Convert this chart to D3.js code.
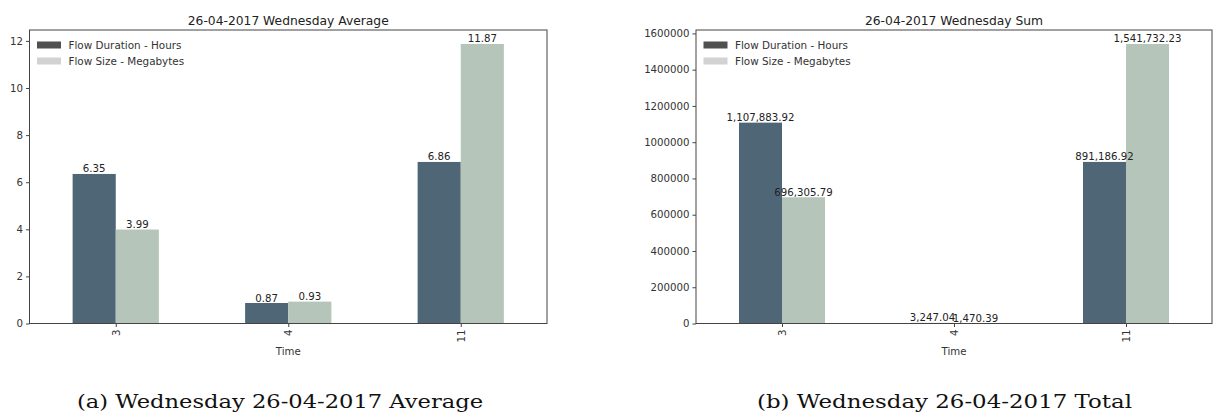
<!DOCTYPE html>
<html><head><meta charset="utf-8">
<script src="https://cdn.jsdelivr.net/npm/d3@7"></script>
<style>body{margin:0;background:#fff}svg{display:block}</style>
</head><body>
<svg id="c" width="1221" height="417"></svg>
<script>
const categories = ["3", "4", "11"];
const seriesNames = ["Flow Duration - Hours", "Flow Size - Megabytes"];
const avgDuration = [6.35, 0.87, 6.86];
const avgSize = [3.99, 0.93, 11.87];
const sumDuration = [1107883.92, 3247.04, 891186.92];
const sumSize = [696305.79, 1470.39, 1541732.23];
const avgTicks = [0, 2, 4, 6, 8, 10, 12];
const sumTicks = [0, 200000, 400000, 600000, 800000, 1000000, 1200000, 1400000, 1600000];
const titles = ["26-04-2017 Wednesday Average", "26-04-2017 Wednesday Sum"];
const captions = ["(a) Wednesday 26-04-2017 Average", "(b) Wednesday 26-04-2017 Total"];

const svg = d3.select("#c");
const barColors = ["#4e6676", "#b6c5b9"];
const legendColors = ["#505050", "#d2d2d2"];
const sans = "DejaVu Sans";

function panel(cfg) {
  const {x0, x1, y0, y1, d1, d2, ticks, fmtLabel, title, caption, capCx, capW} = cfg;
  const g = svg.append("g");
  const ymax = d3.max(d1.concat(d2)) * 1.05;
  const x = d3.scaleLinear().domain([-0.5, categories.length - 0.5]).range([x0, x1]);
  const y = d3.scaleLinear().domain([0, ymax]).range([y1, y0]);
  const bw = 0.25;
  [d1, d2].forEach((d, s) => {
    g.selectAll(null).data(d).enter().append("rect")
      .attr("x", (v, i) => x(i - bw + s * bw))
      .attr("width", x(bw) - x(0))
      .attr("y", v => y(v))
      .attr("height", v => y(0) - y(v))
      .attr("fill", barColors[s]);
  });
  [d1, d2].forEach((d, s) => {
    g.selectAll(null).data(d).enter().append("text")
      .attr("x", (v, i) => x(i - bw / 2 + s * bw))
      .attr("y", v => y(v) - 1.5)
      .attr("text-anchor", "middle")
      .attr("font-family", sans).attr("font-size", 10.2).attr("fill", "#222")
      .text(fmtLabel);
  });
  // frame
  g.append("rect").attr("x", x0).attr("y", y0).attr("width", x1 - x0).attr("height", y1 - y0)
    .attr("fill", "none").attr("stroke", "#444").attr("stroke-width", 1);
  // y axis
  const ya = g.append("g").attr("transform", `translate(${x0},0)`)
    .call(d3.axisLeft(y).tickValues(ticks).tickFormat(d3.format("d")).tickSize(3.5).tickPadding(3));
  ya.select(".domain").remove();
  ya.selectAll("text").attr("font-family", sans).attr("font-size", 10.2).attr("fill", "#333");
  ya.selectAll("line").attr("stroke", "#444");
  // x axis
  const xa = g.append("g").attr("transform", `translate(0,${y1})`)
    .call(d3.axisBottom(x).tickValues(d3.range(categories.length)).tickFormat(i => categories[i]).tickSize(3.5));
  xa.select(".domain").remove();
  xa.selectAll("line").attr("stroke", "#444");
  xa.selectAll("text")
    .attr("font-family", sans).attr("font-size", 10.2).attr("fill", "#333")
    .attr("transform", "rotate(-90)").attr("text-anchor", "end")
    .attr("x", -6).attr("y", 0).attr("dy", "0.35em");
  g.append("text").attr("x", (x0 + x1) / 2).attr("y", y1 + 31).attr("text-anchor", "middle")
    .attr("font-family", sans).attr("font-size", 10.2).attr("fill", "#333").text("Time");
  // title
  g.append("text").attr("x", (x0 + x1) / 2).attr("y", y0 - 5).attr("text-anchor", "middle")
    .attr("font-family", sans).attr("font-size", 12.3).attr("fill", "#222").text(title);
  // legend
  seriesNames.forEach((n, s) => {
    const cy = y0 + 15 + s * 16;
    g.append("rect").attr("x", x0 + 7.5).attr("y", cy - 3.5).attr("width", 24).attr("height", 7)
      .attr("fill", legendColors[s]);
    g.append("text").attr("x", x0 + 39).attr("y", cy + 3.6)
      .attr("font-family", sans).attr("font-size", 10.4).attr("fill", "#333").text(n);
  });
  // caption
  svg.append("text").attr("x", capCx).attr("y", 408).attr("text-anchor", "middle")
    .attr("font-family", "DejaVu Serif").attr("font-size", 19)
    .attr("textLength", capW).attr("lengthAdjust", "spacingAndGlyphs")
    .attr("fill", "#111").text(caption);
}

panel({x0: 29.5, x1: 547, y0: 30, y1: 323.5, d1: avgDuration, d2: avgSize, ticks: avgTicks,
  fmtLabel: d3.format(".2f"), title: titles[0], caption: captions[0], capCx: 280, capW: 406});
panel({x0: 696, x1: 1212, y0: 30, y1: 323.5, d1: sumDuration, d2: sumSize, ticks: sumTicks,
  fmtLabel: d3.format(",.2f"), title: titles[1], caption: captions[1], capCx: 944.5, capW: 375});
</script>
</body></html>
